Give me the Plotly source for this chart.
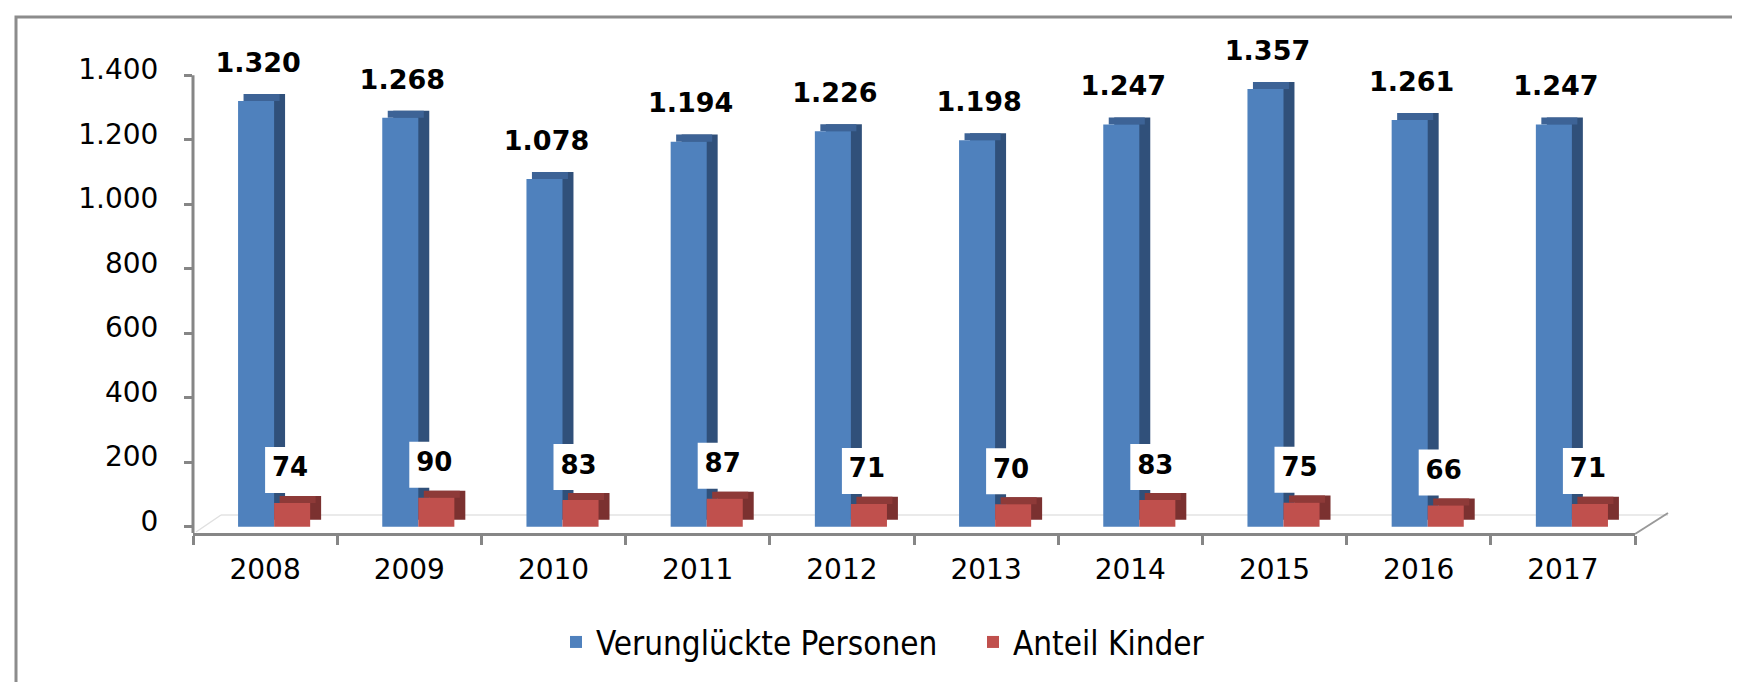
# %%
import plotly.graph_objects as go

# %%
jahre = ["2008", "2009", "2010", "2011", "2012", "2013", "2014", "2015", "2016", "2017"]
verunglueckte = [1320, 1268, 1078, 1194, 1226, 1198, 1247, 1357, 1261, 1247]
kinder = [74, 90, 83, 87, 71, 70, 83, 75, 66, 71]
y_ticks = [0, 200, 400, 600, 800, 1000, 1200, 1400]

# plot area in pixels (for decorations only); y range goes above 1400 so the labels are not hidden
L, R, T, B = 185, 1627, 22, 525
Y0, Y1 = -19, 1540
def px(x):
    return (x - L) / (R - L)
def py(y):
    return (B - y) / (B - T)

grau = "#868686"
tiefe = 22       # height of the top face, in axis units
seite = 0.076    # depth of the side face, in category units
pos = list(range(len(jahre)))
u_px = (R - L) / len(jahre)           # px per category
v_px = (B - T) / (Y1 - Y0)            # px per axis unit

fig = go.Figure()

# fake 3D: darker bars behind the front face
for werte, off, c_side, c_top, c_front, name in [
    (verunglueckte, -0.1875, "#30507a", "#3d6396", "#4f81bd", "Verunglückte Personen"),
    (kinder, 0.0625, "#7b3130", "#8e3a38", "#c0504d", "Anteil Kinder"),
]:
    fig.add_trace(go.Bar(x=pos, y=werte, base=tiefe, offset=off + seite, width=0.25,
                         marker=dict(color=c_side, line_width=0), showlegend=False, hoverinfo="skip"))
    fig.add_trace(go.Bar(x=pos, y=[tiefe] * len(werte), base=werte, offset=off + seite / 2, width=0.25,
                         marker=dict(color=c_top, line_width=0), showlegend=False, hoverinfo="skip"))
    fig.add_trace(go.Bar(x=pos, y=werte, offset=off, width=0.25, name=name,
                         marker=dict(color=c_front, line_width=0)))

# data labels (scatter text, shifted by a few pixels from the bar top)
fig.add_trace(go.Scatter(
    x=[p - 7 / u_px for p in pos], y=[v + 36 / v_px for v in verunglueckte],
    mode="text", text=[f"{v:,}".replace(",", ".") for v in verunglueckte],
    textposition="middle center", cliponaxis=False, showlegend=False, hoverinfo="skip",
    textfont=dict(family="DejaVu Sans", size=27, color="black", weight="bold")))
fig.add_trace(go.Scatter(
    x=[p + 23 / u_px for p in pos], y=[v + 33 / v_px for v in kinder],
    mode="markers", marker=dict(symbol="square", size=46, color="white", line_width=0),
    cliponaxis=False, showlegend=False, hoverinfo="skip"))
fig.add_trace(go.Scatter(
    x=[p + 25 / u_px for p in pos], y=[v + 33 / v_px for v in kinder],
    mode="text", text=[str(v) for v in kinder],
    textposition="middle center", cliponaxis=False, showlegend=False, hoverinfo="skip",
    textfont=dict(family="DejaVu Sans", size=26, color="black", weight="bold")))

# y axis line only up to 1400
fig.add_shape(type="line", xref="paper", yref="y", x0=0, x1=0, y0=Y0, y1=max(y_ticks),
              line=dict(color=grau, width=3))
# floor of the 3D chart and outer border
fig.add_shape(type="line", xref="paper", yref="paper", x0=px(213), y0=py(507), x1=px(1660), y1=py(507),
              line=dict(color="#e3e3e3", width=1.5), layer="below")
fig.add_shape(type="line", xref="paper", yref="paper", x0=px(188), y0=py(524), x1=px(213), y1=py(507),
              line=dict(color="#e0e0e0", width=1.5), layer="below")
fig.add_shape(type="line", xref="paper", yref="paper", x0=px(1627), y0=py(526), x1=px(1660), y1=py(505),
              line=dict(color="#999999", width=2), layer="below")
fig.add_shape(type="rect", xref="paper", yref="paper", x0=px(8), y0=py(9), x1=px(1735), y1=py(679),
              line=dict(color="#8c8c8c", width=3), layer="below")

fig.update_layout(
    width=1740,
    height=682,
    margin=dict(l=L, r=1740 - R, t=T, b=682 - B),
    barmode="overlay",
    paper_bgcolor="white",
    plot_bgcolor="white",
    separators=",.",
    font=dict(family="DejaVu Sans", size=28, color="black"),
    legend=dict(orientation="h", x=px(548), xanchor="left", y=py(634), yanchor="middle",
                font=dict(family="Liberation Sans Narrow, DejaVu Sans Condensed, sans-serif", size=33),
                itemwidth=30, entrywidth=372, traceorder="normal"),
)
fig.update_xaxes(range=[-0.5, len(jahre) - 0.5], tickvals=pos, ticktext=jahre,
                 showline=True, linecolor=grau, linewidth=3,
                 ticks="outside", ticklen=9, tickwidth=3, tickcolor="rgba(0,0,0,0)",
                 minor=dict(tickvals=[p - 0.5 for p in pos] + [len(jahre) - 0.5], ticks="outside",
                            ticklen=9, tickwidth=3, tickcolor=grau, showgrid=False),
                 showgrid=False, zeroline=False)
fig.update_yaxes(range=[Y0, Y1], tickvals=y_ticks, tickformat=",d", showline=False,
                 ticks="outside", ticklen=8, tickwidth=3, tickcolor=grau, showgrid=False,
                 zeroline=False, ticklabelshift=-6, ticklabelstandoff=20)

fig.write_html("out.html")
